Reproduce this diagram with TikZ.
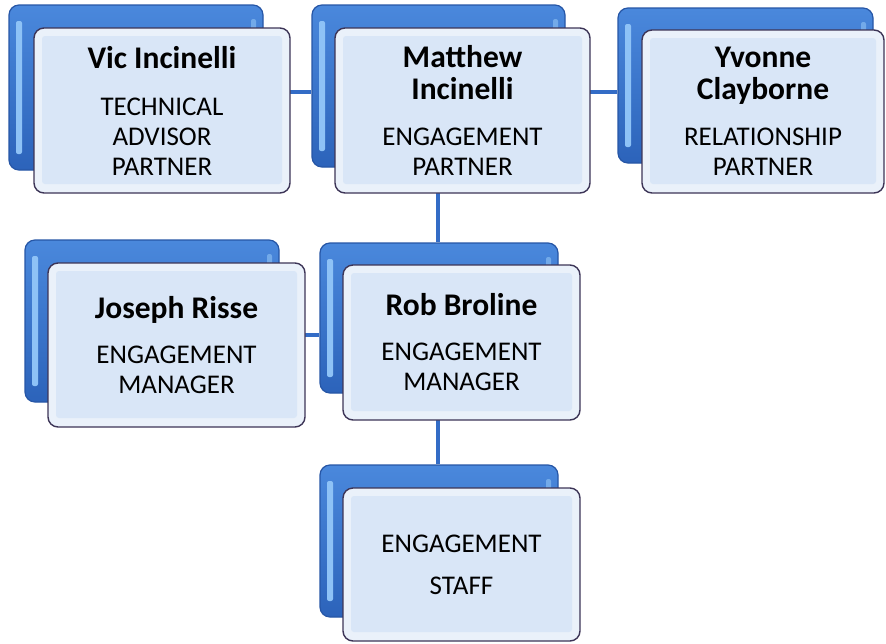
\documentclass[tikz,border=0pt]{standalone}
\usepackage{fontspec}
\setmainfont{Carlito}
\definecolor{blueBody}{HTML}{3372CB}
\definecolor{blueTop}{HTML}{4A88DC}
\definecolor{blueBot}{HTML}{2C63BA}
\definecolor{blueEdge}{HTML}{2656A6}
\definecolor{blueHi}{HTML}{8EC2F6}
\definecolor{frontEdge}{HTML}{3D3557}
\definecolor{frontRim}{HTML}{EAF1FA}
\definecolor{frontFace}{HTML}{D9E6F7}
\definecolor{connBlue}{HTML}{336CC6}
\newcommand{\namefont}{\bfseries\fontsize{31.5}{34}\selectfont}
\newcommand{\rolefont}{\fontsize{27}{30}\selectfont}
\tikzset{
  backbox/.style={rectangle, rounded corners=10pt, draw=blueEdge, line width=1.2pt,
    top color=blueTop, bottom color=blueBot, inner sep=0pt,
    path picture={
      \fill[blueHi, rounded corners=2pt]
        ([xshift=7pt,yshift=-16pt]path picture bounding box.north west) rectangle
        ([xshift=13pt,yshift=16pt]path picture bounding box.south west);
      \fill[blueHi!70!blueBody, rounded corners=2pt]
        ([xshift=-12pt,yshift=-14pt]path picture bounding box.north east) rectangle
        ([xshift=-7pt,yshift=30pt]path picture bounding box.east);
    }},
  frontbox/.style={rectangle, rounded corners=10pt, draw=frontEdge, line width=1.4pt,
    fill=frontRim, inner sep=0pt, align=center, font=\rolefont,
    path picture={
      \fill[frontFace, rounded corners=3pt]
        ([xshift=8pt,yshift=-8pt]path picture bounding box.north west) rectangle
        ([xshift=-8pt,yshift=9pt]path picture bounding box.south east);
    }},
  conn/.style={draw=connBlue, line width=3.5pt}
}
\begin{document}
\begin{tikzpicture}[x=1pt,y=-1pt]
\useasboundingbox (0,0) rectangle (886,643);

% guide lines for the connectors
\coordinate (row1) at (0,92);
\coordinate (row2) at (0,335);
\coordinate (col) at (438,0);

% back (blue) cards
\node[backbox, minimum width=254pt, minimum height=165pt] (vicB) at (136,87.5) {};
\node[backbox, minimum width=253pt, minimum height=162pt] (matthewB) at (438.5,86) {};
\node[backbox, minimum width=255pt, minimum height=155pt] (yvonneB) at (745.5,85.5) {};
\node[backbox, minimum width=254pt, minimum height=162pt] (josephB) at (152,321) {};
\node[backbox, minimum width=238pt, minimum height=150pt] (robB) at (439,318) {};
\node[backbox, minimum width=238pt, minimum height=152pt] (staffB) at (439,541) {};

% connector segments between the cards
\draw[conn] (vicB.east |- row1) -- (matthewB.west |- row1);
\draw[conn] (matthewB.east |- row1) -- (yvonneB.west |- row1);
\draw[conn] (matthewB.south -| col) -- (robB.north -| col);
\draw[conn] (josephB.east |- row2) -- (robB.west |- row2);
\draw[conn] (robB.south -| col) -- (staffB.north -| col);

% front (light) cards with the names and roles
\node[frontbox, minimum width=256pt, minimum height=165pt] (vic) at (162,110.5)
  {{\namefont Vic Incinelli}\\[17pt]TECHNICAL\\ADVISOR\\PARTNER};
\node[frontbox, minimum width=255pt, minimum height=165pt] (matthew) at (462.5,110.5)
  {{\namefont Matthew}\\[2pt]{\namefont Incinelli}\\[16pt]ENGAGEMENT\\PARTNER};
\node[frontbox, minimum width=242pt, minimum height=163pt] (yvonne) at (763,111.5)
  {{\namefont Yvonne}\\[2pt]{\namefont Clayborne}\\[16pt]RELATIONSHIP\\PARTNER};
\node[frontbox, minimum width=257pt, minimum height=164pt] (joseph) at (176.5,345)
  {{\namefont Joseph Risse}\\[15pt]ENGAGEMENT\\MANAGER};
\node[frontbox, minimum width=237pt, minimum height=155pt] (rob) at (461.5,342.5)
  {{\namefont Rob Broline}\\[15pt]ENGAGEMENT\\MANAGER};
\node[frontbox, minimum width=237pt, minimum height=153pt] (staff) at (461.5,564.5)
  {ENGAGEMENT\\[12pt]STAFF};
\end{tikzpicture}
\end{document}
